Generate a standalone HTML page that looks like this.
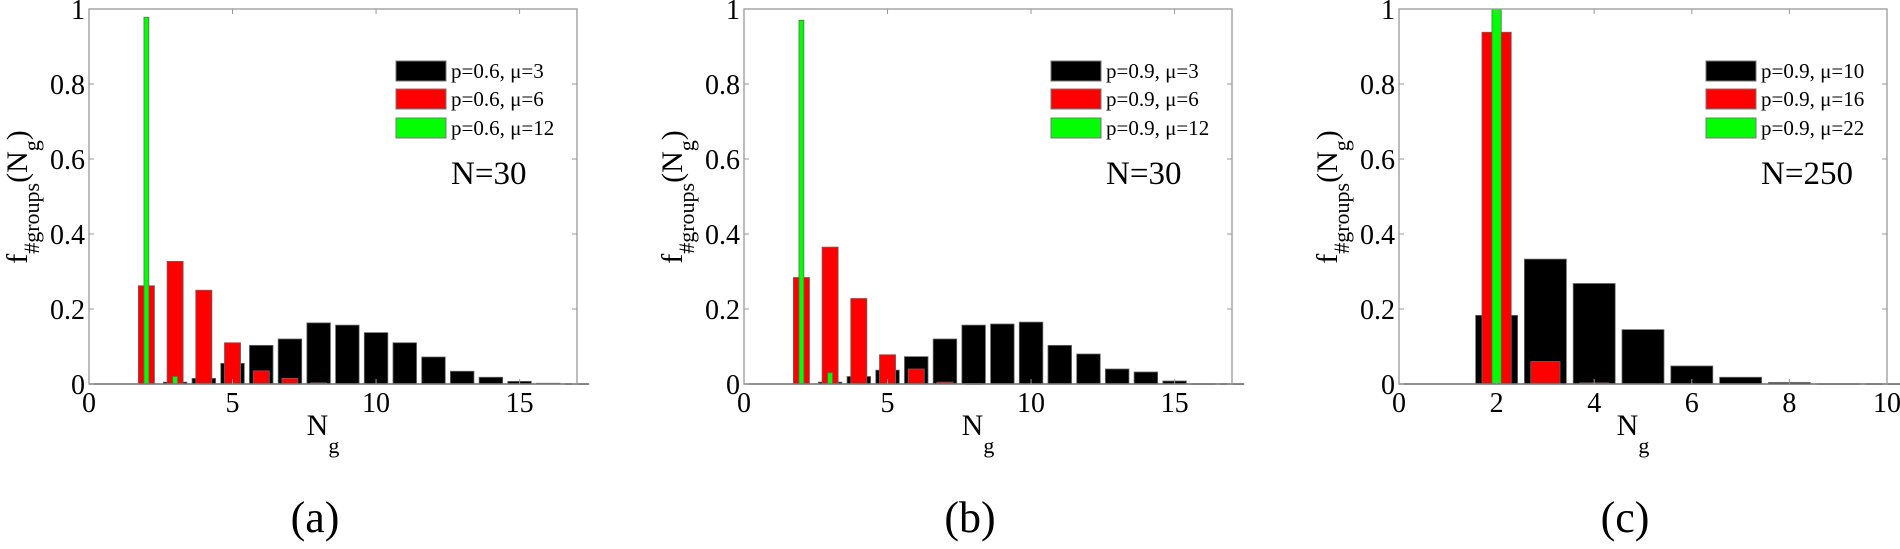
<!DOCTYPE html>
<html><head><meta charset="utf-8"><style>
html,body{margin:0;padding:0;background:#fff;}
svg text{font-family:"Liberation Serif","DejaVu Serif",serif !important;}
</style></head><body>
<svg id="s" width="1900" height="544" xmlns="http://www.w3.org/2000/svg" font-family="Liberation Serif, serif"></svg>
<script>
var s=document.getElementById('s'),h='';
var F=' font-family="Liberation Serif, serif" style="font-family:\'Liberation Serif\',serif"';
var panels=[
 {off:0,xmax:17,ticks:[0,5,10,15],bw:0.82,rw:0.56,gw:0.17,lab:'(a)',N:'N=30',leg:['p=0.6, μ=3','p=0.6, μ=6','p=0.6, μ=12'],
  k:{3:.005,4:.015,5:.055,6:.103,7:.12,8:.163,9:.157,10:.137,11:.11,12:.072,13:.034,14:.018,15:.007,16:.002,17:.001},
  r:{2:.262,3:.327,4:.25,5:.11,6:.035,7:.015,8:.003},g:{2:.978,3:.02}},
 {off:655,xmax:17,ticks:[0,5,10,15],bw:0.82,rw:0.56,gw:0.17,lab:'(b)',N:'N=30',leg:['p=0.9, μ=3','p=0.9, μ=6','p=0.9, μ=12'],
  k:{3:.005,4:.02,5:.037,6:.073,7:.12,8:.157,9:.16,10:.165,11:.103,12:.08,13:.04,14:.032,15:.008,16:.001,17:.001},
  r:{2:.284,3:.365,4:.228,5:.078,6:.04,7:.005,8:.001},g:{2:.97,3:.03}},
 {off:1310,xmax:10,ticks:[0,2,4,6,8,10],bw:0.86,rw:0.6,gw:0.19,lab:'(c)',N:'N=250',leg:['p=0.9, μ=10','p=0.9, μ=16','p=0.9, μ=22'],
  k:{2:.183,3:.333,4:.268,5:.145,6:.048,7:.018,8:.004,9:.001,10:.001},
  r:{2:.938,3:.06,4:.003},g:{2:1.0}}
];
var L=89,W=488,T=9,B=384,H=375;
panels.forEach(function(p){
 var x0=L+p.off, sx=W/p.xmax;
 function X(v){return x0+v*sx;}
 function bars(d,w,c){for(var k in d){var v=d[k],hh=v*H;
  h+='<rect x="'+(X(+k)-w*sx/2)+'" y="'+(B-hh)+'" width="'+(w*sx)+'" height="'+Math.max(hh,0.8)+'" fill="'+c+'" stroke="#666" stroke-width="0.8"/>';}}
 bars(p.k,p.bw,'#000');bars(p.r,p.rw,'#f00');bars(p.g,p.gw,'#0f0');
 h+='<rect x="'+x0+'" y="'+T+'" width="'+W+'" height="'+(B-T)+'" fill="none" stroke="#999" stroke-width="1.3"/>';
 h+='<line x1="'+x0+'" y1="'+B+'" x2="'+(x0+W)+'" y2="'+B+'" stroke="#777" stroke-width="1.5"/>';
 p.ticks.forEach(function(t){var x=X(t);
  h+='<line x1="'+x+'" y1="'+B+'" x2="'+x+'" y2="'+(B-5)+'" stroke="#999"/><line x1="'+x+'" y1="'+T+'" x2="'+x+'" y2="'+(T+5)+'" stroke="#999"/>';
  h+='<text'+F+' x="'+x+'" y="412" font-size="28" text-anchor="middle">'+t+'</text>';});
 [0,0.2,0.4,0.6,0.8,1].forEach(function(t){var y=B-t*H;
  h+='<line x1="'+x0+'" y1="'+y+'" x2="'+(x0+5)+'" y2="'+y+'" stroke="#999"/><line x1="'+(x0+W)+'" y1="'+y+'" x2="'+(x0+W-5)+'" y2="'+y+'" stroke="#999"/>';
  h+='<text'+F+' x="'+(x0-4)+'" y="'+(y+10)+'" font-size="28" text-anchor="end">'+(t===0?'0':t===1?'1':t)+'</text>';});
 var cols=['#000','#f00','#0f0'],ly=[61,89,118];
 for(var i=0;i<3;i++){
  h+='<rect x="'+(x0+307)+'" y="'+ly[i]+'" width="50" height="20" fill="'+cols[i]+'" stroke="#777" stroke-width="1"/>';
  h+='<text'+F+' x="'+(x0+362)+'" y="'+(ly[i]+17)+'" font-size="21">'+p.leg[i]+'</text>';}
 h+='<text'+F+' x="'+(x0+362)+'" y="184" font-size="33">'+p.N+'</text>';
 var cx=x0+234;
 h+='<text'+F+' x="'+cx+'" y="435" font-size="30" text-anchor="middle">N<tspan font-size="22" dy="18">g</tspan></text>';
 h+='<text'+F+' transform="translate('+(x0-62)+',197) rotate(-90)" font-size="30" text-anchor="middle">f<tspan font-size="22" dy="12">#groups</tspan><tspan dy="-12">(N</tspan><tspan font-size="22" dy="12">g</tspan><tspan dy="-12">)</tspan></text>';
 h+='<text'+F+' x="'+(x0+226)+'" y="532" font-size="44" text-anchor="middle">'+p.lab+'</text>';
});
s.innerHTML=h;
</script>
</body></html>
